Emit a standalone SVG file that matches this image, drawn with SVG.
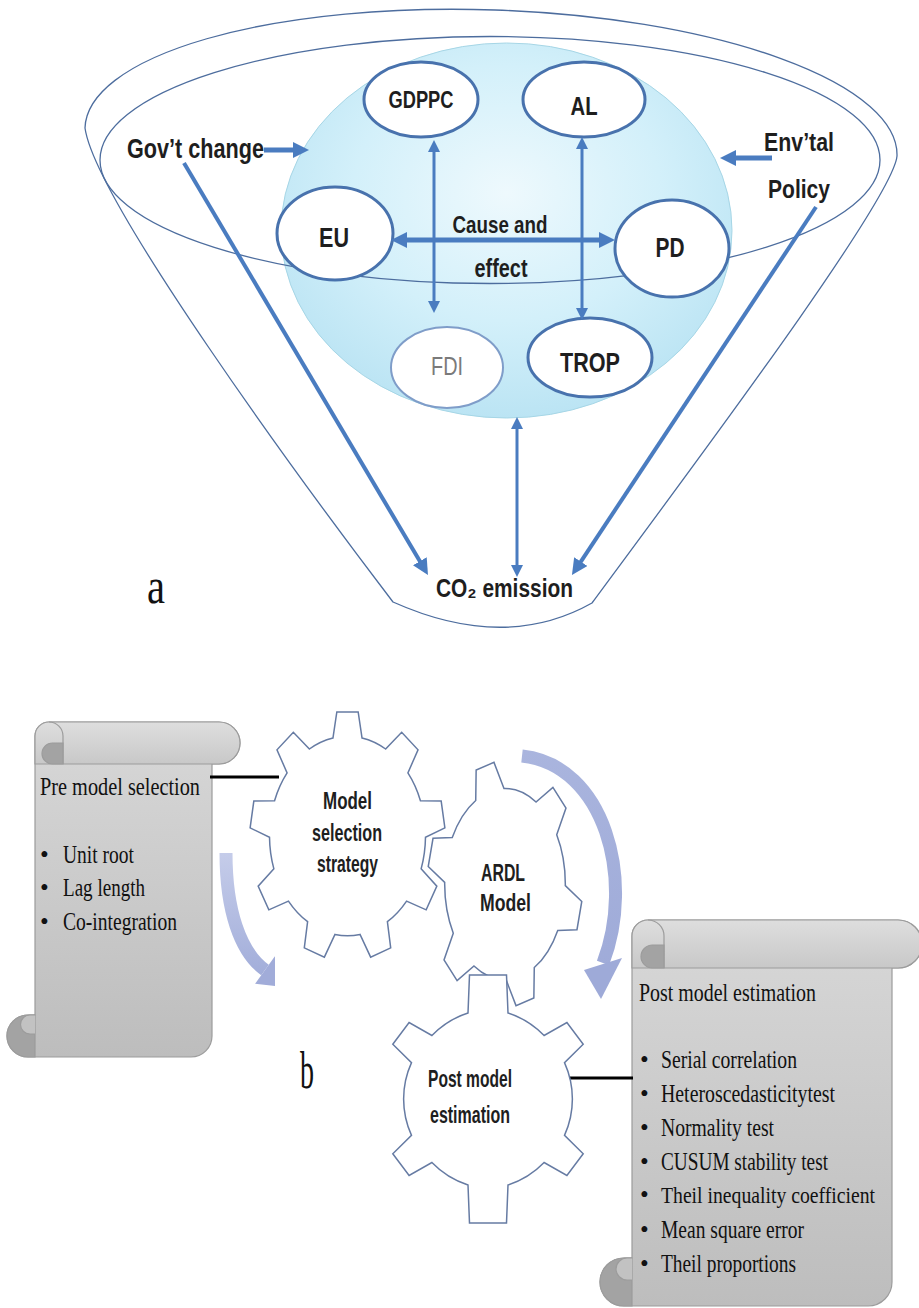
<svg xmlns="http://www.w3.org/2000/svg" width="919" height="1308" viewBox="0 0 919 1308">
<style>
.fl{fill:none;stroke:#4d6d9e;stroke-width:1.3}
.nd{fill:#fff;stroke:#4872ad;stroke-width:3}
.ar{fill:none;stroke:#4a7cc0}
.lb{font-family:'Liberation Sans',Arial,sans-serif;font-weight:bold;fill:#1e1e1e;text-anchor:middle}
.sf{font-family:'Liberation Serif','Times New Roman',serif;fill:#111}
.gr{fill:#ffffff;stroke:#667ba3;stroke-width:1.5}
.sc{stroke:#9c9c9c;stroke-width:1.2}
.cv{fill:none;stroke-width:13}
.bl{font-family:'Liberation Serif','Times New Roman',serif;fill:#111;font-size:25px}
</style>
<defs>
<marker id="ah" markerUnits="userSpaceOnUse" markerWidth="16" markerHeight="16" refX="8" refY="8" orient="auto-start-reverse"><path d="M0,0 L16,8 L0,16 Z" fill="#4a7cc0"/></marker>
<marker id="as" markerUnits="userSpaceOnUse" markerWidth="12" markerHeight="12" refX="6" refY="6" orient="auto-start-reverse"><path d="M0,0 L12,6 L0,12 Z" fill="#4a7cc0"/></marker>
<radialGradient id="sg" cx="0.5" cy="0.4" r="0.62"><stop offset="0" stop-color="#eef9fd"/><stop offset="0.55" stop-color="#d3f0fa"/><stop offset="1" stop-color="#b9e3f3"/></radialGradient>
<linearGradient id="sb" x1="0" y1="0" x2="0" y2="1"><stop offset="0" stop-color="#d8d8d8"/><stop offset="1" stop-color="#bdbdbd"/></linearGradient>
<linearGradient id="rg" x1="0" y1="0" x2="0" y2="1"><stop offset="0" stop-color="#dedede"/><stop offset="1" stop-color="#c8c8c8"/></linearGradient>
<linearGradient id="agl" gradientUnits="userSpaceOnUse" x1="0" y1="850" x2="0" y2="990"><stop offset="0" stop-color="#c6cdea"/><stop offset="1" stop-color="#9eaad8"/></linearGradient>
<linearGradient id="agr" gradientUnits="userSpaceOnUse" x1="520" y1="750" x2="610" y2="1000"><stop offset="0" stop-color="#aab5de"/><stop offset="1" stop-color="#9eaad8"/></linearGradient>
<clipPath id="clipL"><rect x="0" y="0" width="275" height="1308"/></clipPath>
</defs>
<rect width="919" height="1308" fill="#fff"/>

<!-- Part a -->
<g id="funnel">
<path class="fl" d="M85,128 A406,132 2 0 1 897,156 C893,200 690,470 592,603 Q505,652 393,602 C300,480 95,200 85,128 Z"/>
</g>
<g id="sphere"><ellipse cx="506.5" cy="230.5" rx="225.5" ry="187.5" fill="url(#sg)" stroke="#a6d6e6" stroke-width="1"/></g>
<g id="ring"><ellipse class="fl" cx="490" cy="160" rx="390" ry="123.5"/></g>

<g id="node-gdppc"><ellipse class="nd" cx="421" cy="99.5" rx="57" ry="37.5"/><text class="lb" x="421" y="108" font-size="23" textLength="65" lengthAdjust="spacingAndGlyphs">GDPPC</text></g>
<g id="node-al"><ellipse class="nd" cx="584" cy="99.5" rx="61" ry="37.5"/><text class="lb" x="584" y="115" font-size="25" textLength="27" lengthAdjust="spacingAndGlyphs">AL</text></g>
<g id="node-eu"><ellipse class="nd" cx="335" cy="233.5" rx="58" ry="46.5"/><text class="lb" x="334" y="247" font-size="27" textLength="30" lengthAdjust="spacingAndGlyphs">EU</text></g>
<g id="node-pd"><ellipse class="nd" cx="672" cy="248.5" rx="57" ry="48.5"/><text class="lb" x="670" y="257" font-size="27" textLength="29" lengthAdjust="spacingAndGlyphs">PD</text></g>
<g id="node-fdi"><ellipse cx="447" cy="367.5" rx="56" ry="40.5" fill="#fff" stroke="#7f9dc9" stroke-width="2"/><text x="447" y="375" font-family="'Liberation Sans',Arial,sans-serif" font-size="25" fill="#7a7a7a" text-anchor="middle" textLength="32" lengthAdjust="spacingAndGlyphs">FDI</text></g>
<g id="node-trop"><ellipse class="nd" cx="590" cy="357.5" rx="62" ry="39.5"/><text class="lb" x="590" y="372" font-size="27" textLength="60" lengthAdjust="spacingAndGlyphs">TROP</text></g>
<g id="label-cause"><text class="lb" x="500" y="233" font-size="24" textLength="95" lengthAdjust="spacingAndGlyphs">Cause and</text><text class="lb" x="501" y="277" font-size="25" textLength="53" lengthAdjust="spacingAndGlyphs">effect</text></g>
<g id="node-gov"><text class="lb" x="195.5" y="158" font-size="27" textLength="137" lengthAdjust="spacingAndGlyphs">Gov’t change</text></g>
<g id="node-env"><text class="lb" x="799" y="151" font-size="26" textLength="70" lengthAdjust="spacingAndGlyphs">Env’tal</text><text class="lb" x="799" y="198" font-size="26" textLength="62" lengthAdjust="spacingAndGlyphs">Policy</text></g>
<g id="node-co2"><text class="lb" x="504.5" y="597" font-size="26" textLength="137" lengthAdjust="spacingAndGlyphs">CO₂ emission</text></g>

<g id="connectors-a" class="ar">
<line x1="264" y1="150" x2="301" y2="150" stroke-width="5" marker-end="url(#ah)"/>
<line x1="772" y1="158" x2="728" y2="158" stroke-width="5" marker-end="url(#ah)"/>
<line x1="434" y1="146" x2="434" y2="307" stroke-width="3" marker-start="url(#as)" marker-end="url(#as)"/>
<line x1="582" y1="143" x2="582" y2="314" stroke-width="3" marker-start="url(#as)" marker-end="url(#as)"/>
<line x1="399" y1="240" x2="607" y2="240" stroke-width="5" marker-start="url(#ah)" marker-end="url(#ah)"/>
<line x1="184" y1="163" x2="423.9" y2="568.1" stroke-width="4" marker-end="url(#ah)"/>
<line x1="816" y1="207" x2="576.4" y2="568.3" stroke-width="4" marker-end="url(#ah)"/>
<line x1="517" y1="423" x2="517" y2="571" stroke-width="3" marker-start="url(#as)" marker-end="url(#as)"/>
</g>
<text class="sf" x="147" y="603" font-size="50" textLength="18" lengthAdjust="spacingAndGlyphs">a</text>

<!-- Part b -->
<g id="scroll-pre">
<path class="sc" fill="url(#sb)" d="M35,1015 L35,736 A14,14 0 0 1 49,722 L219,722 A21,21 0 0 1 219,764 L212,764 L212,1036 A21,21 0 0 1 191,1057 L28,1057 A21,21 0 0 1 28,1015 Z"/>
<path class="sc" fill="url(#rg)" d="M35,764 L35,736 A14,14 0 0 1 49,722 L219,722 A21,21 0 0 1 219,764 Z"/>
<path class="sc" fill="none" d="M49,722 A14,14 0 0 1 63,736 L63,764"/>
<path class="sc" fill="#a3a3a3" d="M63,743 L63,764 L52.5,764 A10.5,10.5 0 0 1 52.5,743 Z"/>
<path class="sc" fill="#a3a3a3" d="M35,1015 L28,1015 A21,21 0 0 0 28,1057 L35,1057 Z"/>
<path class="sc" fill="#c2c2c2" d="M35,1015 L30,1015 A9.5,9.5 0 0 0 30,1034 L35,1034"/>
<text class="bl" x="40" y="795" textLength="160" lengthAdjust="spacingAndGlyphs">Pre model selection</text>
<text class="bl" x="40" y="863">•</text><text class="bl" x="63" y="863" textLength="71" lengthAdjust="spacingAndGlyphs">Unit root</text>
<text class="bl" x="40" y="896">•</text><text class="bl" x="63" y="896" textLength="82" lengthAdjust="spacingAndGlyphs">Lag length</text>
<text class="bl" x="40" y="930">•</text><text class="bl" x="63" y="930" textLength="114" lengthAdjust="spacingAndGlyphs">Co-integration</text>
</g>

<g id="scroll-post">
<path class="sc" fill="url(#sb)" d="M632,1258 L632,936 A16,16 0 0 1 648,920 L898,920 A24,24 0 0 1 898,968 L892,968 L892,1282 A24,24 0 0 1 868,1306 L624,1306 A24,24 0 0 1 624,1258 Z"/>
<path class="sc" fill="url(#rg)" d="M632,968 L632,936 A16,16 0 0 1 648,920 L898,920 A24,24 0 0 1 898,968 Z"/>
<path class="sc" fill="none" d="M648,920 A16,16 0 0 1 664,936 L664,968"/>
<path class="sc" fill="#a3a3a3" d="M664,945 L664,968 L652.5,968 A11.5,11.5 0 0 1 652.5,945 Z"/>
<path class="sc" fill="#a3a3a3" d="M632,1258 L624,1258 A24,24 0 0 0 624,1306 L632,1306 Z"/>
<path class="sc" fill="#c2c2c2" d="M632,1258 L627,1258 A11,11 0 0 0 627,1280 L632,1280"/>
<text class="bl" x="639" y="1001" textLength="177" lengthAdjust="spacingAndGlyphs">Post model estimation</text>
<text class="bl" x="640" y="1068">•</text><text class="bl" x="661" y="1068" textLength="136" lengthAdjust="spacingAndGlyphs">Serial correlation</text>
<text class="bl" x="640" y="1102">•</text><text class="bl" x="661" y="1102" textLength="174" lengthAdjust="spacingAndGlyphs">Heteroscedasticitytest</text>
<text class="bl" x="640" y="1136">•</text><text class="bl" x="661" y="1136" textLength="113" lengthAdjust="spacingAndGlyphs">Normality test</text>
<text class="bl" x="640" y="1170">•</text><text class="bl" x="661" y="1170" textLength="167" lengthAdjust="spacingAndGlyphs">CUSUM stability test</text>
<text class="bl" x="640" y="1203">•</text><text class="bl" x="661" y="1203" style="font-size:22.5px" textLength="214" lengthAdjust="spacingAndGlyphs">Theil inequality coefficient</text>
<text class="bl" x="640" y="1238">•</text><text class="bl" x="661" y="1238" textLength="143" lengthAdjust="spacingAndGlyphs">Mean square error</text>
<text class="bl" x="640" y="1272">•</text><text class="bl" x="661" y="1272" textLength="135" lengthAdjust="spacingAndGlyphs">Theil proportions</text>
</g>

<g id="connectors-b">
<line x1="210" y1="777" x2="279" y2="777" stroke="#000" stroke-width="3"/>
<line x1="562" y1="1078" x2="633" y2="1078" stroke="#000" stroke-width="3"/>
<g clip-path="url(#clipL)"><path class="cv" stroke="url(#agl)" d="M226,853 C226,910 240,952 265,970"/><polygon fill="#a1acd9" points="255.1,983.8 274.9,956.2 289.3,987.5"/></g>
<path class="cv" stroke="url(#agr)" d="M522,756 C605,765 635,880 603,963"/>
<polygon fill="#9eaad8" points="584,970 622,958 601,999"/>
</g>

<g id="gear-ardl">
<path class="gr" vector-effect="non-scaling-stroke" transform="translate(505,884) scale(77,122)" d="M-.3802,-.6849 L-.3747,-.9348 L-.1429,-.997 L-.0132,-.7833 A.7834,.7834 0 0 1 .4031,-.6717 L.6222,-.792 L.792,-.6222 L.6717,-.4031 A.7834,.7834 0 0 1 .7833,.0132 L.997,.1429 L.9348,.3747 L.6849,.3802 A.7834,.7834 0 0 1 .3802,.6849 L.3747,.9348 L.1429,.997 L.0132,.7833 A.7834,.7834 0 0 1 -.4031,.6717 L-.6222,.792 L-.792,.6222 L-.6717,.4031 A.7834,.7834 0 0 1 -.7833,-.0132 L-.997,-.1429 L-.9348,-.3747 L-.6849,-.3802 A.7834,.7834 0 0 1 -.3802,-.6849 Z"/>
<text class="lb" x="503" y="881" font-size="24" textLength="44" lengthAdjust="spacingAndGlyphs">ARDL</text>
<text class="lb" x="505.5" y="911" font-size="24" textLength="51" lengthAdjust="spacingAndGlyphs">Model</text>
</g>

<g id="gear-model">
<path class="gr" vector-effect="non-scaling-stroke" transform="translate(347.5,836) scale(97,124)" d="M-.15,-.79 L-.11,-1 L.11,-1 L.15,-.79 A.804,.804 0 0 1 .3929,-.7015 L.5585,-.8367 L.7271,-.6953 L.6227,-.5087 A.804,.804 0 0 1 .752,-.2848 L.9657,-.2819 L1.0039,-.0653 L.804,.0106 A.804,.804 0 0 1 .7591,.2651 L.921,.4047 L.811,.5953 L.6091,.5249 A.804,.804 0 0 1 .4112,.6911 L.4454,.9021 L.2386,.9773 L.1292,.7937 A.804,.804 0 0 1 -.1292,.7937 L-.2386,.9773 L-.4454,.9021 L-.4112,.6911 A.804,.804 0 0 1 -.6091,.5249 L-.811,.5953 L-.921,.4047 L-.7591,.2651 A.804,.804 0 0 1 -.804,.0106 L-1.0039,-.0653 L-.9657,-.2819 L-.752,-.2848 A.804,.804 0 0 1 -.6227,-.5087 L-.7271,-.6953 L-.5585,-.8367 L-.3929,-.7015 A.804,.804 0 0 1 -.15,-.79 Z"/>
<text class="lb" x="347.5" y="809" font-size="24" textLength="49" lengthAdjust="spacingAndGlyphs">Model</text>
<text class="lb" x="347" y="841" font-size="24" textLength="70" lengthAdjust="spacingAndGlyphs">selection</text>
<text class="lb" x="347.5" y="872" font-size="24" textLength="61" lengthAdjust="spacingAndGlyphs">strategy</text>
</g>

<g id="gear-post">
<path class="gr" d="M468,1013 L469.5,975 L506.5,975 L508,1013 A88,88 0 0 1 544.1,1035.5 L566.9,1022.6 L583.2,1044.2 L564.5,1062.6 A88,88 0 0 1 564.5,1135.4 L583.2,1153.8 L566.9,1175.4 L544.1,1162.5 A88,88 0 0 1 508,1185 L506.5,1223 L469.5,1223 L468,1185 A88,88 0 0 1 431.9,1162.5 L409.1,1175.4 L392.8,1153.8 L411.5,1135.4 A88,88 0 0 1 411.5,1062.6 L392.8,1044.2 L409.1,1022.6 L431.9,1035.5 A88,88 0 0 1 468,1013 Z"/>
<text class="lb" x="470" y="1087" font-size="24" textLength="84" lengthAdjust="spacingAndGlyphs">Post model</text>
<text class="lb" x="470" y="1123" font-size="24" textLength="80" lengthAdjust="spacingAndGlyphs">estimation</text>
</g>

<text class="sf" x="300" y="1088" font-size="52" textLength="14" lengthAdjust="spacingAndGlyphs">b</text>
</svg>
